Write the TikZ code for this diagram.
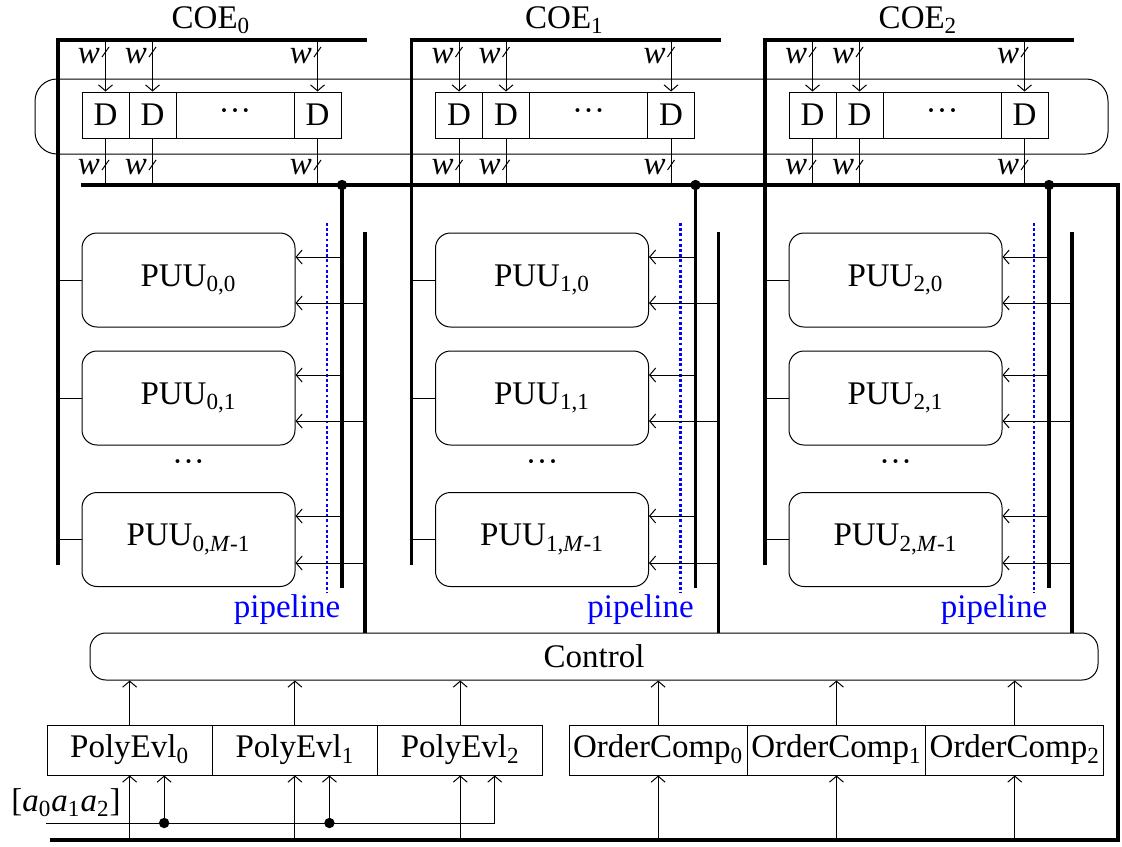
\documentclass[tikz,border=0pt]{standalone}
\usepackage{fontspec}
\setmainfont{Liberation Serif}
\usetikzlibrary{arrows.meta}
\newcommand{\middots}{\textperiodcentered\textperiodcentered\textperiodcentered}
\begin{document}
\begin{tikzpicture}[x=0.5pt,y=-0.5pt,
  every node/.style={font=\fontsize{16.5}{18}\selectfont},
  bus/.style={line width=1.8pt},
  wire/.style={line width=0.5pt},
  arr/.style={wire,-{Straight Barb[length=3pt,width=7pt]}},
  dbox/.style={draw,wire,minimum width=23.5pt,minimum height=23pt,inner sep=0pt},
  puu/.style={draw,wire,rounded corners=7.5pt,minimum width=106.5pt,minimum height=47pt,inner sep=0pt},
  unit/.style={draw,wire,minimum height=25pt,inner sep=0pt},
  pipe/.style={blue,line width=1.1pt,dash pattern=on 1.4pt off 1.2pt}]
\useasboundingbox (0,0) rectangle (1122,846);
\draw[wire,rounded corners=11pt] (35,79) rectangle (1108,154);
\node[draw,wire,rounded corners=8pt,minimum width=504pt,minimum height=23.5pt,inner sep=0pt] (ctrl) at (594,656.5) {Control};
\foreach \i in {0,1,2}{
 \begin{scope}[xshift=\i*176.75pt]
  \node (coe\i) at (211,20) {COE\textsubscript{\i}};
  \draw[bus] (367,40) -- (58,40) -- (58,565);
  \node[dbox] (d\i a) at (105.5,115) {D}; \node[dbox] (d\i b) at (152.5,115) {D};
  \node[dbox,minimum width=59pt] (d\i m) at (235,115) {\middots}; \node[dbox] (d\i c) at (317.5,115) {D};
  \foreach \s in {a,b,c}{
    \draw[arr] (d\i\s |- 0,40) -- (d\i\s.north); \draw[wire] (d\i\s.south) -- (d\i\s |- 0,185);
    \draw[wire] ([shift={(-3.5,5)}]d\i\s |- 0,52) -- ++(7,-10); \draw[wire] ([shift={(-3.5,5)}]d\i\s |- 0,165) -- ++(7,-10);
    \node (wt\i\s) at ([xshift=-8.25pt]d\i\s |- 0,56) {\textit{w}}; \node (wb\i\s) at ([xshift=-8.25pt]d\i\s |- 0,167) {\textit{w}};
  }
  \node[puu] (p\i0) at (188.5,280) {PUU\textsubscript{\i,0}};
  \node[puu] (p\i1) at (188.5,398) {PUU\textsubscript{\i,1}};
  \node (pdots\i) at (188.5,466) {\middots};
  \node[puu] (p\i2) at (188.5,539.5) {PUU\textsubscript{\i,\textit{M}-1}};
  \coordinate (tap\i) at (342,185); \fill (tap\i) circle (2.6pt); \draw[bus] (tap\i) -- (342,588);
  \draw[bus] (365,232) -- (365,0 |- ctrl.north);
  \draw[pipe] (327,223) -- (327,593); \node[blue] (pipe\i) at (287,610) {pipeline};
  \foreach \k/\ya/\yb in {0/257/303,1/375/421,2/516/563}{
    \draw[wire] (p\i\k.west -| 58,0) -- (p\i\k.west);
    \draw[arr] (342,\ya) -- (p\i\k.east |- 0,\ya); \draw[arr] (365,\yb) -- (p\i\k.east |- 0,\yb);
  }
 \end{scope}
}
\draw[bus] (81,185) -- (1118,185) -- (1118,840) -- (50,840);
\node[unit,minimum width=82.65pt] (pe0) at (129.65,750) {PolyEvl\textsubscript{0}};
\node[unit,minimum width=82.65pt] (pe1) at (294.95,750) {PolyEvl\textsubscript{1}};
\node[unit,minimum width=82.65pt] (pe2) at (460.25,750) {PolyEvl\textsubscript{2}};
\node[unit,minimum width=89.15pt] (oc0) at (658.15,750) {OrderComp\textsubscript{0}};
\node[unit,minimum width=89.15pt] (oc1) at (836.45,750) {OrderComp\textsubscript{1}};
\node[unit,minimum width=89.15pt] (oc2) at (1014.75,750) {OrderComp\textsubscript{2}};
\foreach \j in {0,1,2}{
  \draw[arr] (pe\j.north) -- (pe\j.north |- ctrl.south); \draw[arr] (pe\j.south |- 0,840) -- (pe\j.south);
  \draw[arr] (oc\j.north) -- (oc\j.north |- ctrl.south); \draw[arr] (oc\j.south |- 0,840) -- (oc\j.south);
}
\node (coef) at (66,803) {[\textit{a}\textsubscript{0}\textit{a}\textsubscript{1}\textit{a}\textsubscript{2}]};
\coordinate (cin) at (46,823);
\draw[arr] (cin) -| ([xshift=17.25pt]pe2.south);
\foreach \j in {0,1}{
  \fill ([xshift=17.25pt]pe\j.south |- cin) circle (2.6pt);
  \draw[arr] ([xshift=17.25pt]pe\j.south |- cin) -- ([xshift=17.25pt]pe\j.south);
}
\end{tikzpicture}
\end{document}
